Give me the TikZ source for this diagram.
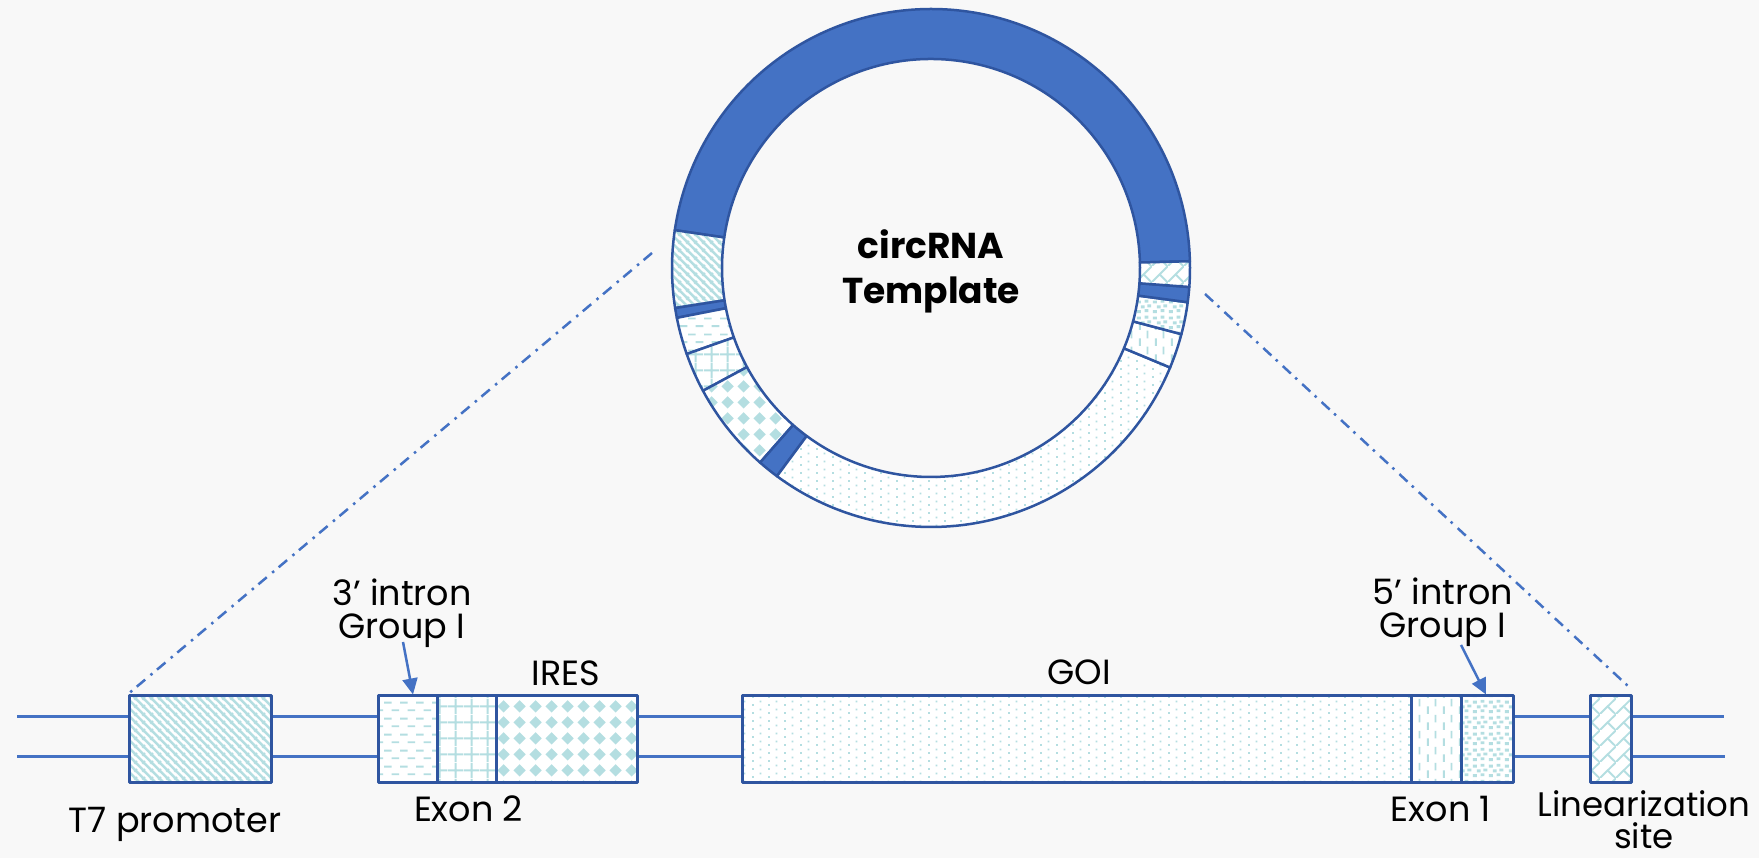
\documentclass[tikz,border=0pt]{standalone}
\usepackage{fontspec}
\setmainfont{Poppins}
\usetikzlibrary{patterns.meta,arrows.meta,calc}

\definecolor{ringblue}{HTML}{4472C4}
\definecolor{edgeblue}{HTML}{2F55A0}
\definecolor{pat}{HTML}{B4DEE1}
\definecolor{bg}{HTML}{F8F8F8}

% fill patterns (1 unit = 1pt)
\tikzdeclarepattern{name=dnhatch, type=uncolored,
  bottom left={(0pt,0pt)}, top right={(8pt,8pt)}, tile size={(8pt,8pt)},
  code={\tikzset{x=1pt,y=1pt}
    \draw[line width=2.8pt] (-1,9) -- (9,-1) (-1,1) -- (1,-1) (7,9) -- (9,7);}}
\tikzdeclarepattern{name=hdash, type=uncolored,
  bottom left={(0pt,0pt)}, top right={(16pt,16pt)}, tile size={(16pt,16pt)},
  code={\tikzset{x=1pt,y=1pt}
    \draw[line width=2pt] (0,12) -- (8,12) (8,4) -- (16,4);}}
\tikzdeclarepattern{name=vdash, type=uncolored,
  bottom left={(0pt,0pt)}, top right={(16pt,16pt)}, tile size={(16pt,16pt)},
  code={\tikzset{x=1pt,y=1pt}
    \draw[line width=2pt] (4,0) -- (4,8) (12,8) -- (12,16);}}
\tikzdeclarepattern{name=smallgrid, type=uncolored,
  bottom left={(0pt,0pt)}, top right={(16pt,16pt)}, tile size={(16pt,16pt)},
  code={\tikzset{x=1pt,y=1pt}
    \draw[line width=2pt] (8,0) -- (8,16) (0,8) -- (16,8);}}
\tikzdeclarepattern{name=soliddiamond, type=uncolored,
  bottom left={(0pt,0pt)}, top right={(16pt,16pt)}, tile size={(16pt,16pt)},
  code={\tikzset{x=1pt,y=1pt}
    \fill (8,1.5) -- (14.5,8) -- (8,14.5) -- (1.5,8) -- cycle;}}
\tikzdeclarepattern{name=confetti, type=uncolored,
  bottom left={(0pt,0pt)}, top right={(16pt,16pt)}, tile size={(16pt,16pt)},
  code={\tikzset{x=1pt,y=1pt}
    \fill (1,1) rectangle +(4,3) (9,2) rectangle +(4,3) (5,6) rectangle +(4,3)
          (12,7) rectangle +(4,3) (1,11) rectangle +(4,3) (9,12) rectangle +(4,3);}}
\tikzdeclarepattern{name=sparsedots, type=uncolored,
  bottom left={(0pt,0pt)}, top right={(16pt,8pt)}, tile size={(16pt,8pt)},
  code={\tikzset{x=1pt,y=1pt}
    \fill (0,0) rectangle (2,2) (8,4) rectangle (10,6);}}
\tikzdeclarepattern{name=diagbrick, type=uncolored,
  bottom left={(0pt,0pt)}, top right={(16pt,16pt)}, tile size={(16pt,16pt)},
  code={\tikzset{x=1pt,y=1pt}
    \draw[line width=2pt] (-1,-1) -- (17,17) (8,8) -- (16,0);}}

\tikzset{
  solidpart/.style={fill=ringblue, draw=edgeblue, line width=2.5pt, line join=round},
  patpart/.style={draw=edgeblue, line width=2.5pt, line join=round,
    preaction={fill=white}, pattern color=pat},
  genebox/.style={patpart, line width=3pt, rectangle, inner sep=0pt,
    minimum height=87pt},
  strand/.style={draw=ringblue, line width=3pt},
  lbl/.style={font=\fontsize{35}{33}\selectfont, anchor=base, inner sep=0pt,
    align=center},
  callout/.style={draw=ringblue, line width=2.5pt,
    -{Triangle[length=16pt,width=15pt]}},
  zoomline/.style={draw=ringblue, line width=2.5pt,
    dash pattern=on 11pt off 6pt on 2.5pt off 7pt},
}

% one segment of the ring: start angle, end angle, style
\newcommand\ringpart[3]{%
  \path[#3] ($(cc)+(#1:259pt)$) arc[start angle=#1, end angle=#2, radius=259pt]
    -- ($(cc)+(#2:209pt)$) arc[start angle=#2, end angle=#1, radius=209pt] -- cycle;}

\begin{document}
\begin{tikzpicture}[x=1pt,y=1pt]
\useasboundingbox (0,0) rectangle (1759,858);
\fill[bg] (0,0) rectangle (1759,858);

% circular template
\coordinate (cc) at (931,590);
\ringpart{1.5}{171.6}{solidpart}
\ringpart{171.6}{188.9}{patpart, pattern=dnhatch}
\ringpart{188.9}{191.1}{solidpart}
\ringpart{191.1}{199.4}{patpart, pattern=hdash}
\ringpart{199.4}{208.3}{patpart, pattern=smallgrid}
\ringpart{208.3}{228.7}{patpart, pattern=soliddiamond}
\ringpart{228.7}{233.5}{solidpart}
\ringpart{233.5}{337.4}{patpart, pattern=sparsedots}
\ringpart{337.4}{345.2}{patpart, pattern=vdash}
\ringpart{345.2}{352.4}{patpart, pattern=confetti}
\ringpart{352.4}{355.8}{solidpart}
\ringpart{355.8}{361.5}{patpart, pattern=diagbrick}

% the last line of a multi-line label sits on the given base point
\node[font=\bfseries\fontsize{36}{45}\selectfont, anchor=base, inner sep=0pt,
  align=center] (title) at (931,554) {circRNA\\Template};

% linear DNA template
\coordinate (s1L) at (17,141);  \coordinate (s1R) at (1724,141);
\coordinate (s2L) at (17,101);  \coordinate (s2R) at (1725,101);
\draw[strand] (s1L) -- (s1R);
\draw[strand] (s2L) -- (s2R);

\node[genebox, pattern=dnhatch,      minimum width=142pt] (t7)   at (200,118.5) {};
\node[genebox, pattern=hdash,        minimum width=59pt]  (in3)  at (407.5,118.5) {};
\node[genebox, pattern=smallgrid,    minimum width=59pt]  (ex2)  at (466.5,118.5) {};
\node[genebox, pattern=soliddiamond, minimum width=141pt] (ires) at (566.5,118.5) {};
\node[genebox, pattern=sparsedots,   minimum width=669pt] (goi)  at (1076.5,118.5) {};
\node[genebox, pattern=vdash,        minimum width=50pt]  (ex1)  at (1436,118.5) {};
\node[genebox, pattern=confetti,     minimum width=52pt]  (in5)  at (1487,118.5) {};
\node[genebox, pattern=diagbrick,    minimum width=41pt]  (lin)  at (1610.5,118.5) {};

% labels
\node[lbl] (lt7)   at (175,25)    {T7 promoter};
\node[lbl] (lex2)  at (468.5,36)  {Exon 2};
\node[lbl] (lin3)  at (402,219)   {3’ intron\\Group I};
\node[lbl] (lires) at (566,172)   {IRES};
\node[lbl] (lgoi)  at (1079,173)  {GOI};
\node[lbl] (lin5)  at (1443,220)  {5’ intron\\Group I};
\node[lbl] (lex1)  at (1441,36)   {Exon 1};
\node[lbl, font=\fontsize{34}{32}\selectfont] (llin) at (1644,9)
  {Linearization\\site};

% callout arrows
\coordinate (a3) at (403,216);
\coordinate (a5) at (1461,213);
\draw[callout] (a3) -- ([xshift=5.5pt]in3.north);
\draw[callout] (a5) -- ([xshift=-1pt]in5.north);

% zoom guides from the ring to the linear template
\coordinate (zl) at (652,605);
\coordinate (zr) at (1205,564);
\draw[zoomline] (zl) -- (t7.north west);
\draw[zoomline] (zr) -- ([shift={(-4pt,8pt)}]lin.north east);
\end{tikzpicture}
\end{document}
